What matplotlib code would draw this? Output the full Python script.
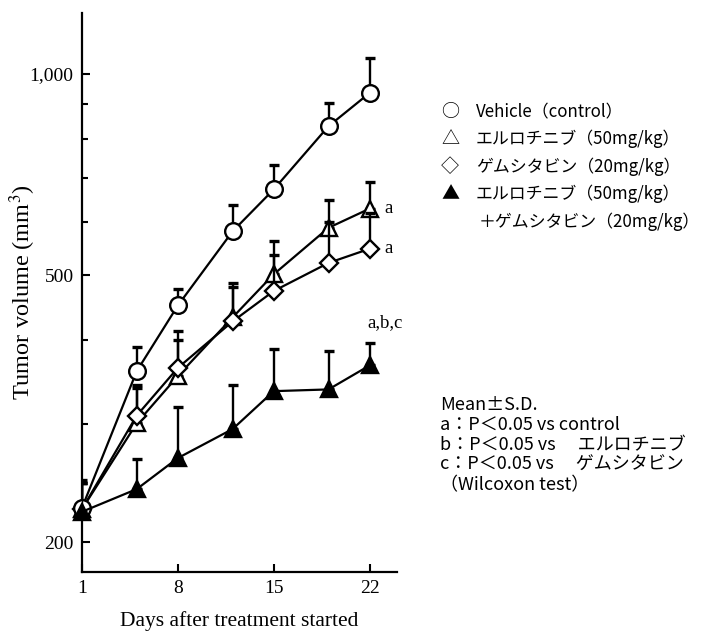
import matplotlib
matplotlib.use("Agg")
import matplotlib.pyplot as plt
import numpy as np

# days of measurement
days = [1, 5, 8, 12, 15, 19, 22]

# mean tumor volume (mm3) and upper end of the S.D. bar
vehicle = [225, 360, 451, 582, 672, 835, 936]
vehicle_top = [248, 391, 478, 638, 732, 904, 1055]

erlotinib = [224, 301, 354, 433, 502, 589, 629]
erlotinib_top = [245, 343, 401, 488, 562, 649, 689]

gemcitabine = [224, 309, 364, 427, 474, 522, 548]
gemcitabine_top = [245, 340, 413, 480, 537, 600, 620]

combo = [222, 240, 267, 295, 336, 338, 367]
combo_top = [245, 266, 318, 343, 389, 386, 397]

legend_labels = [
    "Vehicle（control）",
    "エルロチニブ（50mg/kg）",
    "ゲムシタビン（20mg/kg）",
    "エルロチニブ（50mg/kg）",
    "＋ゲムシタビン（20mg/kg）",
]
notes = [
    "Mean±S.D.",
    "a：P＜0.05 vs control",
    "b：P＜0.05 vs　 エルロチニブ",
    "c：P＜0.05 vs　 ゲムシタビン",
    "（Wilcoxon test）",
]

plt.rcParams["font.family"] = ["Liberation Serif", "DejaVu Serif"]
plt.rcParams["mathtext.fontset"] = "stix"
jp = ["Noto Sans CJK JP", "DejaVu Sans"]

fig = plt.figure(figsize=(7.08, 6.34), dpi=100)
ax = fig.add_axes([82 / 708, 1 - 572 / 634, (397 - 82) / 708, (572 - 13) / 634])

series = [
    (erlotinib, erlotinib_top, "^", "white", 12),
    (gemcitabine, gemcitabine_top, "D", "white", 9.5),
    (vehicle, vehicle_top, "o", "white", 12),
    (combo, combo_top, "^", "black", 12),
]
for i, (mean, top, mk, fc, ms) in enumerate(series):
    mean = np.array(mean)
    err = np.array(top) - mean
    ax.errorbar(days, mean, yerr=[np.zeros_like(err), err], fmt="none",
                ecolor="black", elinewidth=1.7, capsize=3.5, capthick=2.4,
                zorder=2 + i)
    ax.plot(days, mean, color="black", lw=1.6, marker=mk, ms=ms,
            mfc=fc, mec="black", mew=1.7, zorder=3 + i, clip_on=False)

ax.set_yscale("log")
ax.set_ylim(180.5, 1232)
ax.set_xlim(1, 24)
ax.set_yticks([200, 500, 1000])
ax.set_yticklabels(["200", "500", "1,000"])
ax.set_yticks([300, 400, 600, 700, 800, 900], minor=True)
ax.yaxis.set_minor_formatter(matplotlib.ticker.NullFormatter())
ax.set_xticks([1, 8, 15, 22])
ax.set_xticks([], minor=True)

for s in ["top", "right"]:
    ax.spines[s].set_visible(False)
for s in ["left", "bottom"]:
    ax.spines[s].set_linewidth(1.6)

ax.tick_params(which="major", direction="in", length=6, width=1.5,
               labelsize=14, pad=6)
ax.tick_params(which="minor", direction="in", length=4, width=1.5)

ax.set_xlabel("Days after treatment started", fontsize=15.5, labelpad=10)
ax.set_ylabel("Tumor volume (mm$^3$)", fontsize=17.5)
ax.yaxis.set_label_coords(-0.14, 0.5)

# significance marks
ax.text(23.1, erlotinib[-1], "a", fontsize=13.5, va="center", ha="left")
ax.text(23.1, gemcitabine[-1], "a", fontsize=13.5, va="center", ha="left")
ax.text(23.1, 425, "a,b,c", fontsize=13.5, va="center", ha="center")

# legend drawn as text
symbols = ["○", "△", "◇", "▲", ""]
ys = [112, 139, 167, 194, 222]
for sym, lab, y in zip(symbols, legend_labels, ys):
    fig.text(450 / 708, 1 - y / 634, sym, family=jp, fontsize=13,
             ha="center", va="center")
    x = 479 if lab.startswith("＋") else 476
    fig.text(x / 708, 1 - y / 634, lab, family=jp, fontsize=12.2,
             ha="left", va="center")

for i, line in enumerate(notes):
    fig.text(440 / 708, 1 - (405 + 20 * i) / 634, line, family=jp,
             fontsize=13, ha="left", va="center")

fig.savefig("out.png", dpi=100)
